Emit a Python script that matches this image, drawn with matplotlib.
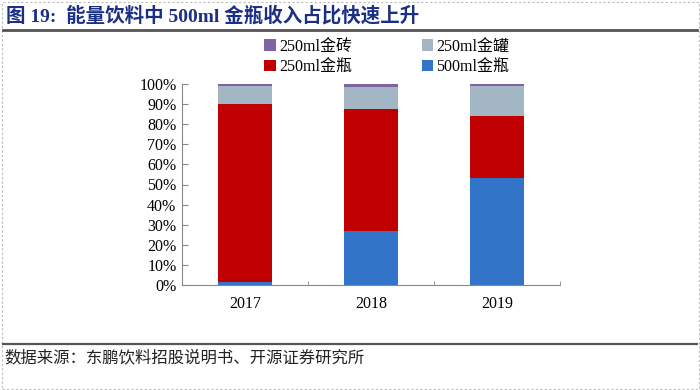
import matplotlib
matplotlib.use('Agg')
import matplotlib.pyplot as plt
import matplotlib.patches as patches
from matplotlib.lines import Line2D
from matplotlib.ticker import FixedLocator, PercentFormatter
import numpy as np

plt.rcParams['font.family'] = ['Liberation Serif', 'Noto Sans CJK SC']

years = ['2017', '2018', '2019']
s500_bottle = [1.3, 27.0, 53.2]      # 500ml金瓶
s250_bottle = [88.7, 60.5, 30.9]     # 250ml金瓶
s250_can = [8.8, 11.0, 14.8]         # 250ml金罐
s250_brick = [1.2, 1.5, 1.1]         # 250ml金砖

series = [('500ml金瓶', s500_bottle, '#3174C8'),
          ('250ml金瓶', s250_bottle, '#C00000'),
          ('250ml金罐', s250_can, '#A2B7C3'),
          ('250ml金砖', s250_brick, '#8064A2')]

fig = plt.figure(figsize=(7, 3.9), dpi=100)
W, H = 700, 390

# dashed page border
fig.add_artist(patches.Rectangle((1.5 / W, 1.5 / H), 1 - 3.0 / W, 1 - 3.0 / H,
                                 transform=fig.transFigure, fill=False,
                                 edgecolor='#BBBBBB', linestyle=(0, (2, 2)), linewidth=0.8))

# title and rules
fig.text(6 / W, 1 - 16 / H, '图 19:  能量饮料中 500ml 金瓶收入占比快速上升',
         fontsize=14, fontweight='bold', color='#1B2F86', va='center', ha='left')
fig.add_artist(Line2D([3 / W, 1 - 3 / W], [1 - 30 / H, 1 - 30 / H],
                      transform=fig.transFigure, color='#555555', linewidth=2))
fig.add_artist(Line2D([3 / W, 1 - 3 / W], [1 - 344 / H, 1 - 344 / H],
                      transform=fig.transFigure, color='#555555', linewidth=1.6))
fig.text(4 / W, 1 - 358 / H, '数据来源：东鹏饮料招股说明书、开源证券研究所',
         fontsize=11.8, color='#222222', va='center', ha='left')

# plot area: x 182..560, y 84..285
ax = fig.add_axes([182 / W, 1 - 285 / H, (560 - 182) / W, (285 - 84) / H])
x = np.arange(len(years))
bottom = np.zeros(len(years))
handles = {}
for name, vals, col in series:
    b = ax.bar(x, vals, 0.43, bottom=bottom, color=col, edgecolor='none', label=name)
    handles[name] = b
    bottom += np.array(vals)

ax.set_xlim(-0.5, 2.5)
ax.set_ylim(0, 100)
ax.set_yticks(np.arange(0, 101, 10))
ax.yaxis.set_major_formatter(PercentFormatter(decimals=0))
ax.set_xticks(x)
ax.set_xticklabels(years)
ax.xaxis.set_minor_locator(FixedLocator([0.5, 1.5, 2.5]))
ax.tick_params(axis='x', which='major', length=0, labelsize=11.5, pad=8)
ax.tick_params(axis='x', which='minor', length=3, direction='in', color='#888888')
ax.tick_params(axis='y', length=4, direction='in', color='#888888', labelsize=11.5, pad=4)
for s in ['top', 'right']:
    ax.spines[s].set_visible(False)
for s in ['left', 'bottom']:
    ax.spines[s].set_color('#888888')
    ax.spines[s].set_linewidth(0.8)

# two columns filled column-wise: row1 金砖/金罐, row2 250金瓶/500金瓶
order = ['250ml金砖', '250ml金瓶', '250ml金罐', '500ml金瓶']
leg = fig.legend([handles[n] for n in order], order, loc='center',
                 bbox_to_anchor=(387 / W, 1 - 57 / H), ncol=2, frameon=False,
                 fontsize=11.5, handlelength=0.7, handleheight=0.7, handletextpad=0.2,
                 columnspacing=4.4, labelspacing=0.3)

fig.savefig('out.png', dpi=100)
